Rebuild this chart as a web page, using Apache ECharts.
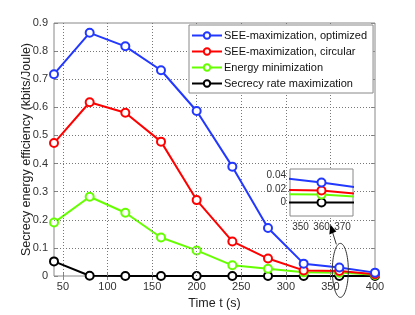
<!DOCTYPE html>
<html><head><meta charset="utf-8">
<script src="https://cdn.jsdelivr.net/npm/echarts@6/dist/echarts.min.js"></script>
<style>html,body{margin:0;padding:0;background:#fff}#c{width:415px;height:315px}</style>
</head><body><div id="c"></div>
<script>
const times=[40,80,120,160,200,240,280,320,360,400];
const seeOpt=[0.718,0.865,0.817,0.732,0.587,0.389,0.171,0.044,0.030,0.012];
const seeCirc=[0.473,0.618,0.581,0.478,0.270,0.123,0.062,0.020,0.018,0.006];
const energyMin=[0.190,0.282,0.225,0.137,0.091,0.038,0.026,0.013,0.012,0.004];
const secRate=[0.052,0.001,0,0,0,0,0,0,0,0];
const names=['SEE-maximization, optimized','SEE-maximization, circular','Energy minimization','Secrecy rate maximization'];
const colors=['#2238ff','#ff0000','#66ff00','#000000'];
const xTicks=[50,100,150,200,250,300,350,400];
const yTicks=[0,0.1,0.2,0.3,0.4,0.5,0.6,0.7,0.8,0.9];
const insetXTicks=[350,360,370];
const insetYTicks=[0,0.02,0.04];

const FONT='Liberation Sans, Arial, sans-serif';
const AX='#888';
const chart=echarts.init(document.getElementById('c'));
const allData=[seeOpt,seeCirc,energyMin,secRate];
function pts(arr){return times.map((t,i)=>[t,arr[i]]);}
const series=[];
allData.forEach((arr,k)=>{
  series.push({name:names[k],type:'line',xAxisIndex:0,yAxisIndex:0,data:pts(arr),
    symbol:'circle',symbolSize:8,showSymbol:true,
    itemStyle:{color:'#fff',borderColor:colors[k],borderWidth:2},
    lineStyle:{color:colors[k],width:2},z:3-k+3,clip:false});
});
[3,2,1,0].forEach(k=>{
  series.push({name:names[k],type:'line',xAxisIndex:2,yAxisIndex:2,data:pts(allData[k]),
    symbol:'circle',symbolSize:8,
    itemStyle:{color:'#fff',borderColor:colors[k],borderWidth:2},
    lineStyle:{color:colors[k],width:2},z:10,clip:true});
});
const tickLbl={color:'#333',fontSize:11,fontFamily:FONT,hideOverlap:false};
const insLbl={color:'#333',fontSize:10,fontFamily:FONT,hideOverlap:false};
const vLines=xTicks.filter(v=>v<400);
const hLines=yTicks.filter(v=>v>0&&v<0.9);
series.push(
  {type:'line',xAxisIndex:0,yAxisIndex:0,data:[],silent:true,z:1,
   markLine:{silent:true,symbol:'none',label:{show:false},lineStyle:{color:'#777',type:[1,2],width:1},
    data:vLines.map(v=>({xAxis:v})).concat(hLines.map(v=>({yAxis:v})))}},
  {type:'line',xAxisIndex:2,yAxisIndex:2,data:[],silent:true,z:9,
   markLine:{silent:true,symbol:'none',label:{show:false},lineStyle:{color:'#aaa',type:[1,2],width:1},
    data:insetXTicks.map(v=>({xAxis:v})).concat(insetYTicks.map(v=>({yAxis:v})))}}
);
chart.setOption({
  animation:false,
  backgroundColor:'#fff',
  textStyle:{fontFamily:FONT},
  legend:{data:names.map((n,k)=>({name:n,itemStyle:{color:'#fff',borderColor:colors[k],borderWidth:2},lineStyle:{color:colors[k],width:2}})),
    orient:'vertical',left:189,top:25,itemWidth:30,itemHeight:8,itemGap:3,padding:[4,6,3,2],
    backgroundColor:'#fff',borderColor:AX,borderWidth:1,borderRadius:0,
    textStyle:{fontSize:11,color:'#111',fontFamily:FONT,padding:[0,0,0,-3],lineHeight:13},selectedMode:false,z:20},
  grid:[{left:54,right:40,top:23,bottom:38,show:true,borderColor:AX,borderWidth:1,backgroundColor:'transparent'},
        {left:290,top:169,width:63,height:47,show:true,borderColor:AX,borderWidth:1,backgroundColor:'#fff',z:8}],
  xAxis:[
    {type:'value',gridIndex:0,min:40,max:400,name:'Time t (s)',nameLocation:'middle',nameGap:21,nameMoveOverlap:false,
     nameTextStyle:{fontSize:12.5,color:'#222',fontFamily:FONT},
     axisLine:{show:false},axisTick:{show:true,inside:true,length:4,customValues:xTicks,lineStyle:{color:AX}},
     axisLabel:{...tickLbl,customValues:xTicks,margin:5},
     splitLine:{show:false}},
    {type:'value',gridIndex:0,position:'top',min:40,max:400,axisLine:{show:false},
     axisTick:{show:true,inside:true,length:4,customValues:xTicks,lineStyle:{color:AX}},axisLabel:{show:false},splitLine:{show:false}},
    {type:'value',gridIndex:1,min:345,max:375,axisLine:{show:false},
     axisTick:{show:true,inside:true,length:3,customValues:insetXTicks,lineStyle:{color:AX}},
     axisLabel:{...insLbl,customValues:insetXTicks,margin:6},splitLine:{show:false}}
  ],
  yAxis:[
    {type:'value',gridIndex:0,min:0,max:0.9,name:'Secrecy energy efficiency (kbits/Joule)',nameLocation:'middle',nameGap:21,nameMoveOverlap:false,
     nameTextStyle:{fontSize:12.5,color:'#222',fontFamily:FONT},
     axisLine:{show:false},axisTick:{show:true,inside:true,length:4,customValues:yTicks,lineStyle:{color:AX}},
     axisLabel:{...tickLbl,customValues:yTicks,margin:6},splitLine:{show:false}},
    {type:'value',gridIndex:0,position:'right',min:0,max:0.9,axisLine:{show:false},
     axisTick:{show:true,inside:true,length:4,customValues:yTicks,lineStyle:{color:AX}},axisLabel:{show:false},splitLine:{show:false}},
    {type:'value',gridIndex:1,min:-0.02,max:0.05,axisLine:{show:false},
     axisTick:{show:true,inside:true,length:3,customValues:insetYTicks,lineStyle:{color:AX}},
     axisLabel:{...insLbl,customValues:insetYTicks,margin:4},splitLine:{show:false}}
  ],
  series:series
});
const c=chart.convertToPixel({xAxisIndex:0,yAxisIndex:0},[360,0.02]);
const ex=c[0]+1, ey=c[1];
chart.setOption({graphic:[
  {type:'ellipse',shape:{cx:ex,cy:ey,rx:8,ry:27},style:{fill:'none',stroke:'#333',lineWidth:1},z:50},
  {type:'line',shape:{x1:ex-4,y1:ey-26,x2:ex-9,y2:ey-42},style:{stroke:'#333',lineWidth:1},z:50},
  {type:'polygon',shape:{points:[[ex-10,ey-46],[ex-11,ey-36],[ex-4,ey-39]]},style:{fill:'#000'},z:50}
]});
</script></body></html>
